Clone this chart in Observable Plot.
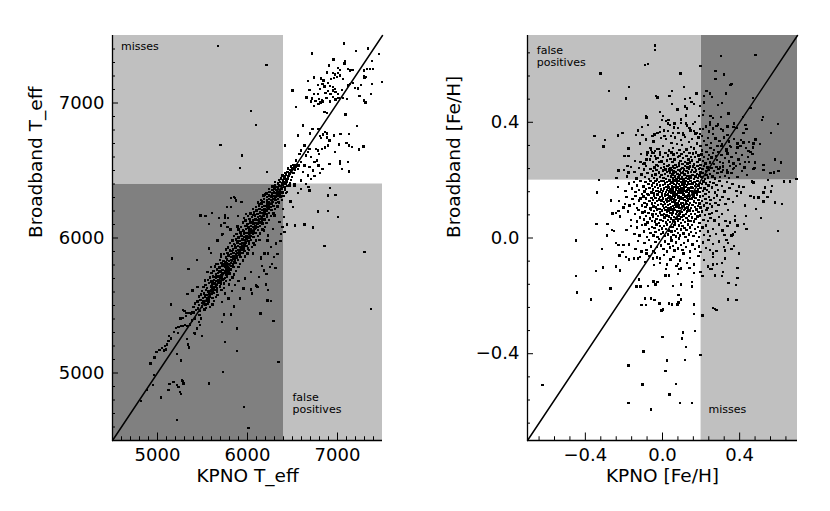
<!DOCTYPE html>
<html><head><meta charset="utf-8">
<script src="https://cdn.jsdelivr.net/npm/d3@7"></script>
<script src="https://cdn.jsdelivr.net/npm/@observablehq/plot@0.6"></script>
<style>
html,body{margin:0;padding:0;background:#fff;}
#wrap{display:flex;width:830px;height:511px;}
#wrap svg{display:block;}
</style></head><body><div id="wrap"></div>
<script>
// ---------- axis settings ----------
const teffDomain = [4500, 7500];
const teffCut = 6400;
const teffTicks = [5000, 6000, 7000];
const teffTickLabels = ["5000", "6000", "7000"];
const fehDomain = [-0.7, 0.7];
const fehCut = 0.2;
const fehTicks = [-0.4, 0, 0.4];
const fehTickLabels = ["\u22120.4", "0.0", "0.4"];

// ---------- left panel: Teff (KPNO, Broadband) ----------
const teffBand = [
[5385,5452],[5428,5466],[5473,5458],[5521,5471],
[5402,5489],[5447,5478],[5493,5492],[5538,5481],[5583,5490],
[5418,5514],[5462,5503],[5497,5518],[5533,5507],[5561,5515],[5612,5506],
[5443,5531],[5478,5541],[5512,5529],[5547,5538],[5572,5544],[5628,5532],
[5458,5566],[5503,5554],[5528,5563],[5557,5552],[5583,5567],[5612,5557],[5652,5564],
[5483,5581],[5518,5590],[5552,5579],[5573,5588],[5602,5583],[5623,5592],[5668,5580],
[5497,5606],[5542,5615],[5568,5603],[5597,5612],[5613,5608],[5642,5617],[5663,5604],[5712,5613],
[5512,5639],[5553,5628],[5592,5641],[5612,5632],[5643,5638],[5658,5627],[5692,5642],[5738,5631],
[5532,5654],[5573,5667],[5607,5656],[5633,5663],[5657,5652],[5678,5666],[5707,5658],[5738,5664],[5792,5655],
[5558,5689],[5602,5678],[5628,5691],[5657,5682],[5678,5688],[5702,5679],[5723,5692],[5762,5681],[5808,5690],
[5583,5706],[5618,5714],[5652,5703],[5677,5716],[5702,5707],[5718,5712],[5747,5704],[5773,5715],[5832,5708],
[5598,5739],[5647,5731],[5673,5742],[5703,5728],[5722,5737],[5748,5744],[5768,5730],[5802,5738],[5848,5733],
[5622,5755],[5663,5766],[5702,5757],[5723,5763],[5752,5752],[5768,5767],[5792,5758],[5818,5764],[5873,5756],
[5642,5789],[5688,5781],[5722,5792],[5748,5783],[5772,5788],[5793,5779],[5817,5791],[5843,5784],[5902,5787],
[5668,5806],[5712,5815],[5743,5803],[5772,5812],[5793,5807],[5817,5816],[5838,5804],[5872,5813],[5918,5809],
[5692,5838],[5733,5831],[5772,5842],[5793,5829],[5822,5836],[5838,5843],[5862,5832],[5893,5839],[5952,5834],
[5708,5864],[5762,5855],[5788,5866],[5822,5858],[5843,5863],[5867,5854],[5883,5867],[5922,5859],[5973,5862],
[5737,5881],[5778,5889],[5817,5880],[5843,5891],[5872,5883],[5888,5888],[5912,5879],[5943,5890],[6002,5884],
[5758,5914],[5807,5906],[5838,5915],[5872,5903],[5893,5912],[5917,5907],[5933,5916],[5967,5905],[6018,5912],
[5782,5931],[5828,5939],[5867,5930],[5893,5941],[5922,5932],[5938,5938],[5962,5929],[5988,5940],[6052,5933],
[5803,5963],[5852,5955],[5888,5966],[5922,5957],[5943,5962],[5967,5953],[5983,5967],[6017,5958],[6068,5964],
[5832,5981],[5873,5990],[5912,5979],[5943,5988],[5972,5983],[5988,5991],[6012,5980],[6038,5987],[6097,5982],
[5848,6014],[5902,6005],[5933,6016],[5967,6007],[5988,6012],[6017,6003],[6033,6015],[6067,6008],[6118,6013],
[5877,6031],[5923,6040],[5962,6029],[5988,6038],[6017,6033],[6038,6041],[6062,6030],[6088,6037],[6142,6032],
[5898,6064],[5952,6055],[5983,6066],[6017,6057],[6038,6062],[6067,6053],[6083,6067],[6117,6058],[6168,6063],
[5927,6081],[5973,6090],[6012,6079],[6038,6088],[6067,6083],[6088,6091],[6112,6080],[6138,6087],[6192,6082],
[5948,6114],[6002,6105],[6033,6116],[6067,6107],[6088,6112],[6112,6103],[6133,6115],[6167,6108],[6213,6113],
[5982,6131],[6023,6140],[6062,6129],[6088,6138],[6117,6133],[6133,6141],[6162,6130],[6188,6137],[6242,6132],
[6003,6164],[6052,6155],[6083,6166],[6117,6157],[6138,6162],[6162,6153],[6183,6167],[6217,6158],[6258,6163],
[6032,6181],[6073,6190],[6112,6179],[6138,6188],[6167,6183],[6183,6191],[6212,6180],[6238,6187],[6287,6182],
[6058,6214],[6102,6205],[6133,6216],[6167,6207],[6188,6212],[6212,6203],[6233,6215],[6267,6208],[6308,6213],
[6092,6231],[6128,6240],[6162,6229],[6188,6238],[6217,6233],[6233,6241],[6262,6230],[6288,6237],[6332,6232],
[6118,6264],[6157,6255],[6183,6266],[6217,6257],[6238,6262],[6262,6253],[6283,6267],[6317,6258],[6353,6263],
[6152,6281],[6183,6290],[6217,6279],[6238,6288],[6267,6283],[6283,6291],[6312,6280],[6338,6287],[6382,6282],
[6178,6314],[6217,6305],[6238,6316],[6267,6307],[6288,6312],[6312,6303],[6333,6315],[6367,6308],[6398,6313],
[6212,6331],[6243,6340],[6272,6329],[6293,6338],[6317,6333],[6333,6341],[6362,6330],[6388,6337],[6427,6332],
[6238,6364],[6277,6355],[6298,6366],[6322,6357],[6338,6362],[6362,6353],[6383,6367],[6417,6358],
[6277,6381],[6303,6390],[6332,6379],[6348,6388],[6372,6383],[6388,6391],[6412,6380],[6438,6387],
[6308,6414],[6342,6405],[6358,6416],[6382,6407],[6398,6412],[6422,6403],[6438,6415],[6472,6408],
[6352,6431],[6373,6440],[6397,6429],[6413,6438],[6432,6433],[6448,6441],[6482,6430],
[6388,6464],[6412,6455],[6428,6466],[6452,6457],[6463,6462],[6492,6453],
[6422,6481],[6443,6490],[6467,6479],[6483,6488],[6512,6482],
[6452,6514],[6478,6505],[6502,6516],[6528,6507],
[6482,6531],[6508,6540],[6542,6529],[6568,6538],
[5612,5672],[5655,5718],[5688,5752],[5721,5796],[5757,5824],[5790,5872],[5826,5903],[5858,5947],[5893,5978],[5927,6022],[5958,6047],[5994,6093],[6027,6124],[6061,6170],[6094,6198],[6128,6249],[6160,6276],[6195,6322],
[5661,5623],[5706,5662],[5741,5697],[5779,5748],[5812,5771],[5848,5818],[5886,5853],[5917,5896],[5955,5922],[5986,5962],[6021,6002],[6057,6041],[6092,6072],[6126,6121],[6163,6146],[6197,6188],[6232,6224],[6268,6254],[6303,6297],[6341,6322]
];
const teffScatter = [
[5674,7423],[5700,6690],[5937,6611],[5918,6520],[5814,6295],[5862,6298],[5933,6268],[5774,6231],[5477,6167],[5533,6162],[5607,6184],[5748,6147],[5781,6147],[5892,6162],[5985,6179],[5962,6147],[5570,6103],[5703,6093],[5744,6112],[5811,6063],[5718,6026],[5888,6085],[5974,6130],[5918,6043],
[7073,7441],[6718,7367],[7207,7386],[7340,7404],[7462,7364],[6210,7283],[6955,7322],[7085,7307],[7077,7293],[7385,7312],[6903,7278],[7003,7258],[7025,7243],[7114,7253],[7140,7241],[7166,7246],[7292,7241],[7325,7251],[7359,7253],[7392,7253],[6881,7226],[6948,7221],[6973,7211],[7003,7223],[7292,7201],[7314,7191],[7299,7184],[6673,7164],[6736,7189],[6814,7181],[6844,7167],[6781,7135],[6833,7140],[6855,7122],[6892,7147],[6918,7127],[6951,7120],[6973,7105],[6929,7179],[6962,7184],[6996,7194],[7029,7204],[7062,7179],[7114,7130],[7136,7140],[7173,7149],[7192,7112],[7225,7107],[7262,7135],[7381,7140],[7496,7154],[6499,7093],[6688,7095],[6785,7068],[6740,7065],[6807,7105],[6892,7090],[6866,7075],[6922,7065],[6948,7093],[6977,7080],[7003,7065],[7048,7095],[6655,7041],[6718,7033],[6755,7016],[6792,7031],[6825,7021],[6707,7011],[6877,7036],[6918,7011],[6948,7046],[6977,7026],[7010,7038],[6736,6977],[6788,6991],[6810,7004],[6840,7011],[7059,7036],[7103,7031],[7244,7053],[7296,7019],[7310,7004],[7370,7065],[6536,6972],[6855,6932],[6885,6925],[7088,6915],[6036,6942],[6092,6838],[6618,6833],[6722,6809],[6788,6809],[7218,6828],[6559,6759],[6696,6774],[6803,6754],[6818,6740],[6840,6767],[6862,6784],[6881,6774],[6885,6744],[6962,6759],[7033,6769],[7129,6769],[7018,6693],[7099,6705],[7125,6685],[7159,6675],[7288,6678],[7236,6656],[6910,6722],[6892,6685],[6829,6661],[6862,6670],[6970,6636],[6414,6685],[6910,6547],[7025,6567],[7025,6550],[7118,6562],[7051,6510],[7125,6493],[6214,6488],[6744,6458],[6807,6483],[6833,6512],
[6918,6369],[6977,6320],[6896,6315],[6781,6196],[6896,6199],[7003,6154],[6725,6078],[6633,6100],[6529,6093],[6440,6100],[6503,6228],[6477,6270],[6436,6340],[6559,6335],[6596,6364],[6651,6401],[6688,6352],[6677,6377],[6466,6389],[6521,6389],
[6762,6661],[6781,6648],[6792,6623],[6744,6562],[6770,6574],[6788,6537],[6707,6599],[6670,6636],[6688,6661],[6633,6685],[6596,6648],[6651,6611],[6577,6623],[6540,6574],[6596,6562],[6633,6537],[6688,6525],[6725,6500],[6559,6512],[6522,6537],[6484,6488],[6614,6488],[6670,6463],[6707,6438],[6596,6426],[6522,6401],
[6373,6340],[6336,6266],[6392,6216],[6299,6167],[6410,6043],[6281,6068],[6355,6117],[6225,6019],
[6855,5942],[7299,5897],[7373,5473],[6344,5080],[6144,5440],[6288,5386],[6262,5532],[6040,5618],[6051,5589],[6099,5643],[6207,5655],[6225,5613],[6040,5749],[6159,5791],[6270,5808],[6310,5779],[6010,4594],[6188,5885],[6151,5848],[6225,5885],[6059,5885],[6318,5959],[6366,5976],[6133,5984],[6077,5947],[6003,5922],
[5162,5848],[5440,5838],[5344,5771],[5570,5922],[5592,5890],[5151,5507],[5281,5465],[5299,5458],[5318,5443],[5344,5443],[5374,5440],[5400,5448],[5281,5408],[5314,5421],[5255,5403],[5207,5334],[5233,5339],[5259,5349],[5285,5347],[5307,5354],[5333,5349],[5359,5359],[5381,5389],[5418,5403],[5225,5297],[5181,5302],[5129,5275],[5148,5255],[5122,5236],[5085,5201],[5103,5211],[5048,5186],[5022,5169],[5074,5166],[5092,5174],[4966,5115],[4922,5070],[4988,5157],[5218,5139],[5262,5092],[5329,5250],[5337,5211],[5348,5189],[5418,5292],[5440,5329],[5474,5354],[5485,5403],[5462,5379],[5466,5428],[5496,5275],[5411,5297],[4962,4984],[4948,4910],[4881,4873],[4818,4794],[5040,4818],[5122,4873],[5133,4920],[5177,4934],[5218,4910],[5233,4897],[5251,4860],[5262,4843],[5277,4939],[5288,4922],[5270,4947],[5214,4653],[5574,4922],[5729,5008],[5748,5231],[5714,5379],[5740,5433],[5818,5433],[5848,5492],[5881,5329],[5881,5164],[5962,4749],[5751,5589],[5825,5606],[5862,5650],[5899,5680],[5851,5724],[5714,5527],[5788,5552],[5918,5552],[5955,5626],[5974,5700],[5566,5527],[5529,5576],[5622,5626],
[5685,6150],[5748,6167],[5852,6303],[5874,6278],[5815,6229],[5778,6080],[5722,6031],[5667,5982],[5704,5883],[5648,5809],[5593,5784],[5556,5747],[5630,5710],[5526,5685],[5444,5636],[5389,5611],[5333,5587],[6185,6056],[6222,5982],[6259,5932],[6296,5858],[6252,5784],[6333,5883],[6370,6031],[6389,6080],[6407,6154],[6185,5759],[6111,5636],[6093,5648],[6222,5537],[6211,5735],[6148,5858],[6130,5710]
];

// ---------- right panel: [Fe/H] (KPNO, Broadband) ----------
const fehCore = [
[-.082,.417],[-.013,.436],[.031,.408],[.078,.444],[.121,.423],[.167,.402],[.214,.438],[.263,.415],
[-.128,.372],[-.074,.391],[-.041,.358],[-.012,.384],[.008,.371],[.027,.396],[.044,.353],[.061,.382],[.083,.362],[.097,.398],[.109,.356],[.128,.389],[.146,.371],[.157,.394],[.172,.361],[.193,.377],[.204,.352],[.226,.386],[.241,.368],[.262,.359],[.288,.392],[.313,.371],[.337,.357],[.368,.384],[.419,.362],
[-.118,.327],[-.087,.341],[-.063,.312],[-.046,.334],[-.027,.308],[-.009,.346],[.004,.318],[.019,.343],[.033,.302],[.046,.329],[.053,.311],[.066,.347],[.074,.325],[.088,.304],[.096,.338],[.102,.322],[.117,.349],[.125,.306],[.138,.331],[.147,.315],[.154,.342],[.163,.309],[.178,.327],[.186,.348],[.197,.318],[.206,.303],[.214,.336],[.229,.321],[.237,.345],[.248,.311],[.253,.329],[.267,.305],[.274,.344],[.286,.318],[.296,.336],[.308,.323],[.319,.347],[.332,.306],[.345,.334],[.356,.315],[.371,.342],[.389,.326],[.408,.339],[.432,.311],[.471,.326],
[-.176,.283],[-.142,.266],[-.113,.291],[-.094,.258],[-.081,.287],[-.066,.271],[-.054,.296],[-.048,.262],[-.039,.284],[-.031,.253],[-.022,.277],[-.014,.298],[-.006,.265],[.003,.281],[.009,.256],[.016,.293],[.022,.268],[.029,.285],[.035,.252],[.041,.274],[.047,.296],[.052,.263],[.057,.288],[.063,.271],[.068,.252],[.074,.294],[.079,.279],[.085,.258],[.089,.283],[.094,.267],[.098,.291],[.103,.255],[.107,.276],[.112,.298],[.118,.263],[.124,.284],[.129,.257],[.134,.272],[.139,.293],[.144,.261],[.148,.281],[.153,.268],[.158,.292],[.164,.254],[.169,.279],[.175,.296],[.181,.263],[.187,.285],[.192,.271],[.198,.253],[.203,.289],[.209,.266],[.215,.281],[.222,.257],[.228,.297],[.235,.273],[.242,.286],[.247,.261],[.254,.278],[.261,.293],[.268,.256],[.276,.284],[.283,.269],[.291,.297],[.297,.262],[.306,.287],[.315,.259],[.324,.276],[.337,.292],[.346,.265],[.357,.281],[.368,.258],[.381,.294],[.394,.272],[.412,.287],[.427,.263],[.443,.279],[.466,.291],
[-.228,.234],[-.183,.212],[-.162,.246],[-.146,.228],[-.134,.206],[-.121,.241],[-.108,.219],[-.097,.237],[-.091,.211],[-.084,.248],[-.077,.224],[-.069,.203],[-.062,.239],[-.056,.216],[-.049,.231],[-.045,.207],[-.041,.244],[-.036,.219],[-.032,.236],[-.027,.202],[-.023,.249],[-.018,.226],[-.013,.211],[-.009,.242],[-.005,.218],[.002,.233],[.005,.208],[.009,.246],[.012,.221],[.016,.237],[.019,.204],[.023,.229],[.026,.249],[.029,.214],[.033,.238],[.036,.201],[.039,.226],[.042,.243],[.045,.212],[.048,.235],[.051,.219],[.053,.247],[.056,.206],[.059,.231],[.062,.242],[.065,.213],[.068,.228],[.071,.203],[.074,.245],[.077,.222],[.079,.236],[.082,.209],[.085,.248],[.088,.217],[.091,.233],[.093,.204],[.096,.239],[.098,.225],[.101,.211],[.104,.243],[.106,.228],[.109,.202],[.112,.237],[.115,.219],[.118,.249],[.121,.207],[.124,.232],[.127,.215],[.129,.244],[.132,.226],[.135,.203],[.138,.238],[.141,.213],[.144,.247],[.147,.229],[.149,.209],[.152,.236],[.155,.218],[.158,.247],[.162,.204],[.165,.229],[.168,.241],[.172,.212],[.175,.234],[.178,.222],[.182,.249],[.185,.207],[.189,.238],[.192,.216],[.195,.243],[.198,.226],[.203,.211],[.207,.239],[.211,.224],[.215,.248],[.219,.205],[.224,.232],[.228,.217],[.233,.244],[.237,.209],[.241,.236],[.246,.221],[.254,.242],[.259,.213],[.266,.231],[.272,.206],[.279,.246],[.285,.224],[.291,.238],[.297,.211],[.305,.229],[.314,.247],[.323,.214],[.336,.236],[.344,.207],[.358,.224],[.372,.243],[.389,.211],[.413,.232],[.437,.218],[.478,.241],
[-.231,.176],[-.192,.163],[-.174,.188],[-.158,.171],[-.147,.193],[-.139,.158],[-.131,.181],[-.122,.166],[-.114,.197],[-.106,.153],[-.098,.178],[-.094,.161],[-.089,.194],[-.084,.169],[-.078,.152],[-.073,.186],[-.068,.173],[-.063,.198],[-.058,.157],[-.053,.182],[-.049,.167],[-.046,.191],[-.043,.154],[-.039,.176],[-.036,.198],[-.033,.163],[-.029,.185],[-.026,.151],[-.022,.172],[-.019,.194],[-.016,.159],[-.012,.181],[-.009,.168],[-.006,.196],[-.003,.155],[.002,.184],[.004,.162],[.007,.197],[.009,.171],[.012,.153],[.014,.188],[.017,.176],[.019,.158],[.022,.193],[.024,.166],[.027,.181],[.029,.152],[.032,.174],[.034,.199],[.037,.161],[.039,.186],[.042,.169],[.044,.155],[.046,.192],[.049,.178],[.051,.163],[.053,.195],[.055,.171],[.058,.154],[.060,.186],[.062,.177],[.064,.159],[.067,.199],[.069,.167],[.071,.183],[.073,.152],[.076,.191],[.078,.174],[.080,.161],[.082,.196],[.085,.168],[.087,.187],[.089,.156],[.091,.179],[.094,.164],[.096,.193],[.098,.172],[.101,.185],[.103,.157],[.105,.194],[.108,.169],[.110,.178],[.112,.153],[.115,.189],[.117,.163],[.120,.198],[.122,.176],[.125,.158],[.127,.184],[.130,.166],[.132,.192],[.135,.171],[.137,.155],[.140,.187],[.143,.162],[.145,.197],[.148,.175],[.152,.161],[.155,.188],[.158,.172],[.161,.154],[.165,.193],[.168,.179],[.171,.163],[.174,.186],[.177,.157],[.181,.196],[.184,.168],[.187,.181],[.191,.159],[.194,.191],[.197,.173],[.204,.186],[.209,.162],[.213,.195],[.218,.171],[.223,.153],[.227,.189],[.232,.166],[.238,.181],[.242,.158],[.247,.194],[.256,.174],[.264,.191],[.271,.157],[.279,.183],[.288,.166],[.295,.198],[.309,.179],[.322,.161],[.336,.193],[.347,.172],[.362,.186],[.384,.163],[.421,.177],
[-.226,.128],[-.187,.141],[-.171,.113],[-.156,.134],[-.148,.118],[-.139,.146],[-.131,.104],[-.123,.129],[-.115,.137],[-.107,.112],[-.099,.143],[-.094,.121],[-.089,.107],[-.084,.136],[-.079,.116],[-.073,.148],[-.068,.127],[-.063,.102],[-.058,.139],[-.053,.119],[-.049,.131],[-.046,.109],[-.043,.145],[-.039,.122],[-.036,.138],[-.033,.104],[-.029,.127],[-.026,.149],[-.022,.114],[-.019,.133],[-.016,.101],[-.012,.142],[-.009,.118],[-.006,.129],[-.003,.147],[.002,.112],[.004,.137],[.007,.124],[.009,.103],[.012,.145],[.014,.118],[.017,.131],[.019,.108],[.022,.149],[.024,.126],[.027,.115],[.029,.139],[.032,.102],[.035,.128],[.037,.144],[.040,.117],[.042,.133],[.045,.106],[.047,.141],[.051,.124],[.053,.147],[.055,.111],[.058,.135],[.060,.102],[.062,.128],[.065,.143],[.067,.116],[.070,.132],[.072,.107],[.075,.149],[.077,.121],[.079,.138],[.082,.113],[.084,.127],[.087,.146],[.089,.104],[.092,.134],[.095,.119],[.097,.141],[.101,.109],[.103,.136],[.106,.122],[.108,.148],[.111,.113],[.114,.131],[.116,.102],[.119,.143],[.121,.126],[.124,.117],[.127,.139],[.129,.106],[.132,.129],[.135,.147],[.138,.114],[.141,.135],[.144,.121],[.147,.103],[.153,.137],[.156,.115],[.160,.144],[.163,.126],[.167,.108],[.171,.139],[.175,.121],[.179,.148],[.183,.111],[.187,.132],[.191,.119],[.195,.143],[.198,.105],[.205,.127],[.211,.146],[.216,.112],[.222,.135],[.228,.121],[.234,.103],[.240,.141],[.246,.118],[.249,.132],[.257,.109],[.266,.138],[.274,.122],[.283,.147],[.291,.114],[.298,.131],[.311,.142],[.326,.117],[.343,.135],[.364,.124],[.387,.146],[.428,.113],
[-.221,.074],[-.178,.091],[-.163,.062],[-.144,.083],[-.133,.057],[-.124,.096],[-.116,.071],[-.104,.088],[-.097,.064],[-.091,.092],[-.084,.077],[-.078,.053],[-.072,.086],[-.066,.068],[-.061,.098],[-.056,.059],[-.052,.081],[-.048,.072],[-.044,.094],[-.039,.057],[-.035,.083],[-.031,.066],[-.027,.099],[-.022,.076],[-.018,.052],[-.014,.088],[-.010,.063],[-.006,.079],[-.002,.095],[.003,.058],[.007,.084],[.010,.071],[.014,.097],[.017,.053],[.021,.078],[.024,.089],[.028,.062],[.031,.093],[.035,.074],[.038,.056],[.041,.086],[.044,.067],[.047,.099],[.049,.081],[.053,.061],[.056,.088],[.059,.073],[.063,.096],[.066,.054],[.069,.082],[.072,.068],[.076,.091],[.079,.059],[.082,.077],[.085,.094],[.089,.065],[.092,.085],[.095,.052],[.098,.072],[.102,.089],[.106,.063],[.109,.078],[.113,.097],[.117,.056],[.121,.083],[.124,.069],[.128,.092],[.132,.061],[.136,.076],[.141,.095],[.145,.058],[.148,.084],[.153,.071],[.158,.093],[.162,.057],[.167,.082],[.171,.065],[.176,.098],[.181,.074],[.186,.089],[.191,.052],[.196,.078],[.206,.091],[.213,.063],[.221,.079],[.229,.096],[.236,.058],[.244,.084],[.249,.069],[.258,.087],[.269,.061],[.281,.093],[.293,.072],[.309,.084],[.327,.058],[.341,.097],[.376,.076],
[-.186,.027],[-.164,.041],[-.146,.013],[-.132,.036],[-.119,.008],[-.106,.044],[-.096,.022],[-.088,.047],[-.079,.004],[-.071,.031],[-.063,.017],[-.054,.039],[-.047,.009],[-.042,.034],[-.036,.021],[-.031,.046],[-.025,.003],[-.019,.028],[-.013,.041],[-.008,.014],[-.003,.033],[.004,.019],[.009,.042],[.014,.006],[.019,.031],[.024,.047],[.028,.012],[.033,.026],[.038,.039],[.043,.002],[.047,.023],[.052,.037],[.057,.011],[.062,.045],[.066,.024],[.071,.005],[.076,.032],[.081,.018],[.086,.043],[.091,.008],[.096,.029],[.103,.041],[.108,.016],[.114,.034],[.119,.003],[.125,.027],[.131,.046],[.137,.012],[.142,.036],[.148,.021],[.154,.044],[.161,.007],[.168,.031],[.175,.018],[.183,.039],[.189,.004],[.196,.025],[.207,.036],[.216,.011],[.226,.043],[.237,.022],[.246,.006],[.261,.031],[.277,.014],[.292,.047],[.312,.026],[.338,.042],[.367,.012],
[-.173,-.022],[-.141,-.037],[-.127,-.011],[-.109,-.046],[-.094,-.018],[-.083,-.041],[-.071,-.006],[-.059,-.029],[-.046,-.044],[-.037,-.013],[-.028,-.032],[-.017,-.004],[-.008,-.026],[.006,-.039],[.014,-.012],[.023,-.047],[.031,-.021],[.039,-.033],[.046,-.008],[.054,-.027],[.062,-.043],[.071,-.015],[.079,-.036],[.087,-.002],[.095,-.024],[.104,-.041],[.113,-.017],[.122,-.031],[.133,-.009],[.144,-.046],[.156,-.023],[.167,-.038],[.178,-.011],[.189,-.029],[.197,-.048],[.211,-.016],[.224,-.034],[.238,-.007],[.247,-.042],[.263,-.021],[.279,-.044],[.294,-.012],[.318,-.031],[.341,-.018],[.372,-.027],
[-.128,-.071],[-.091,-.083],[-.067,-.062],[-.044,-.094],[-.029,-.068],[-.012,-.087],[.008,-.058],[.024,-.091],[.041,-.074],[.057,-.066],[.073,-.097],[.092,-.078],[.108,-.054],[.126,-.086],[.143,-.069],[.162,-.092],[.187,-.063],[.214,-.077],[.236,-.098],[.262,-.066],[.284,-.089],[.323,-.071]
];
const fehScatter = [
[-.038,.666],[-.038,.649],[-.075,.601],[-.092,.597],[.197,.595],[.304,.630],[.483,.633],[-.322,.568],[.094,.568],[.275,.577],[.320,.565],[.275,.550],[.353,.529],[.358,.533],[.113,.523],[-.278,.509],[-.174,.522],[-.188,.482],[-.035,.491],[-.026,.486],[.049,.508],[.036,.491],[.228,.508],[.245,.500],[.256,.487],[.216,.491],[.176,.500],[.329,.500],[.468,.483],[.289,.459],[.308,.466],[.050,.463],[.118,.481],[.144,.483],[.118,.454],[.127,.448],[.150,.471],[.162,.463],[-.085,.421],[-.004,.408],[-.106,.384],
[-.353,.353],[-.299,.338],[-.306,.316],[-.230,.354],[-.207,.363],[-.138,.357],[-.103,.357],[-.051,.352],[-.038,.356],[-.026,.364],[-.012,.367],[.193,.456],[.214,.468],[.189,.422],[.210,.425],[.249,.422],[.245,.401],[.245,.393],[.343,.431],[.303,.418],[.416,.419],[.457,.450],[.520,.418],[.516,.407],[.598,.395],[.372,.396],[.384,.381],[.337,.385],[.303,.376],[.280,.387],[.263,.378],[.431,.390],[.436,.376],[.562,.364],[.002,.422],[.019,.404],[.040,.390],[.063,.396],[.080,.381],[.097,.410],[.123,.396],[.141,.381],[.162,.370],[.106,.364],[.054,.364],[.028,.370],[.010,.353],[.176,.364],[.196,.359],[.210,.376],
[-.176,.309],[-.198,.284],[-.078,.295],[-.061,.305],[-.038,.301],[-.021,.307],[-.115,.263],[-.099,.255],[-.082,.272],[-.061,.284],[-.047,.293],[-.012,.288],[-.033,.275],[-.016,.263],[.483,.341],[.506,.324],[.450,.332],[.468,.313],[.419,.330],[.405,.318],[.388,.313],[.349,.318],[.332,.301],[.306,.318],[.445,.301],[.457,.298],[.584,.272],[.614,.261],[.523,.252],[.471,.238],[.480,.261],[.450,.263],[.426,.244],[.402,.255],[.381,.249],[.367,.238],[.349,.249],[.337,.226],[.315,.235],[.297,.244],
[-.330,.200],[-.238,.207],[-.341,.157],[-.176,.226],[-.200,.236],[-.181,.249],[.463,.195],[.471,.192],[.546,.201],[.631,.195],[.662,.195],[.694,.203],[.523,.236],[.560,.224],[.577,.226],[.602,.232],[.398,.178],[.407,.157],[.457,.146],[.475,.140],[.497,.140],[.523,.157],[.530,.175],[.567,.180],[.563,.161],[.523,.126],[.544,.142],
[-.268,.130],[-.259,.085],[-.242,.086],[-.228,.094],[-.203,.106],[-.195,.117],[-.343,.048],[-.285,.048],[-.261,.028],[-.252,.025],[-.289,.008],[.511,.069],[.600,.025],[.485,.100],[.433,.077],[.424,.048],[.436,.031],[.388,.043],[.377,.060],[.349,.054],[.376,.020],[.358,.008],[.322,.010],[.584,.123],[.621,.117],
[.332,-.006],[.325,-.043],[.358,-.037],[.398,-.053],[.263,-.054],[.263,-.091],[.309,-.086],[.388,-.104],[.315,-.117],[.271,-.129],[.309,-.132],[.388,-.138],[.245,-.108],[.254,-.108],[.198,-.117],[.207,-.132],[.342,-.155],[.382,-.163],[.339,-.213],[.383,-.215],[.263,-.242],[.271,-.246],[.280,-.248],[.207,-.268],[.198,-.405],[.170,-.322],[.162,-.263],[.162,-.230],[.106,-.327],[.101,-.347],[.122,-.376],[.118,-.421],[.023,-.423],[.016,-.460],[.070,-.504],[.036,-.541],[.092,-.571],[.153,-.571],[.002,-.342],[.002,-.247],[.033,-.227],[.050,-.230],[.078,-.230],[.083,-.223],[.082,-.198],[.096,-.213],[.054,-.166],[.097,-.161],[.153,-.152],[.153,-.167],[.017,-.108],[.033,-.129],[.016,-.129],[.080,-.125],[.097,-.106],[.089,-.108],[.162,-.122],[.141,-.104],[.080,-.089],
[-.447,-.008],[-.315,-.038],[-.242,-.017],[-.229,-.025],[-.203,-.025],[-.223,-.060],[-.207,-.048],[-.189,-.066],[-.447,-.132],[-.442,-.189],[-.372,-.212],[-.344,-.114],[-.309,-.102],[-.269,-.175],[-.242,-.098],[-.221,-.112],[-.123,-.144],[-.115,-.167],[-.134,-.167],[-.090,-.209],[-.061,-.209],[-.042,-.215],[-.108,-.232],[-.087,-.232],[-.076,-.166],[-.047,-.150],[-.026,-.152],[-.036,-.161],[-.015,-.227],[-.005,-.250],[-.003,-.342],[-.099,-.393],[-.177,-.441],[-.622,-.508],[-.104,-.506],[-.177,-.570],[-.061,-.593],
[-.174,-.074],[-.148,-.071],[-.116,-.066],[-.082,-.054],[-.038,-.051],[-.012,-.071],[-.050,-.071],
[.012,.188],[.048,.171],[.073,.204],[.104,.166],[.139,.214],[.021,.134],[.066,.121],[.097,.157],[.131,.097],[-.024,.163],[.058,.226],[.117,.192],[.162,.141],[-.037,.108],[.004,.079],[.087,.113],[.036,.233],[.151,.176],[.083,.142],[.026,.097]
];

// ---------- drawing ----------
const FONT = "DejaVu Sans, sans-serif";
const DARK = "#808080", LIGHT = "#c0c0c0";

function panel(cfg) {
  const [d0, d1] = cfg.domain, c = cfg.cut;
  const lo = [d0, c], hi = [c, d1];
  const dark = cfg.darkLow ? [{x: lo, y: lo}] : [{x: hi, y: hi}];
  const light = [{x: lo, y: hi}, {x: hi, y: lo}];
  const rect = (arr, fill) => Plot.rect(arr, {x1: r => r.x[0], x2: r => r.x[1], y1: r => r.y[0], y2: r => r.y[1], fill});
  const txt = {fontFamily: FONT, fill: "black"};
  return Plot.plot({
    width: 415, height: 511,
    marginTop: 35, marginRight: 33, marginBottom: 71, marginLeft: 112,
    x: {domain: cfg.domain, axis: null},
    y: {domain: cfg.domain, axis: null},
    style: {background: "white", overflow: "visible"},
    marks: [
      rect(dark, DARK),
      rect(light, LIGHT),
      Plot.dot(cfg.points, {x: d => d[0], y: d => d[1], symbol: "square", r: 1.35, fill: "black", stroke: "none", shapeRendering: "crispEdges"}),
      Plot.line(cfg.domain.map(v => [v, v]), {x: d => d[0], y: d => d[1], stroke: "black", strokeWidth: 1.5}),
      Plot.ruleX([d0], {x: d => d, stroke: "black", strokeWidth: 1.3}),
      Plot.ruleY([d0], {y: d => d, stroke: "black", strokeWidth: 1.3}),
      Plot.ruleX(cfg.ticks, {x: d => d, y1: () => d0, y2: () => d0, insetTop: -7.5, stroke: "black"}),
      Plot.ruleX(cfg.minor, {x: d => d, y1: () => d0, y2: () => d0, insetTop: -3.75, stroke: "black"}),
      Plot.ruleY(cfg.ticks, {y: d => d, x1: () => d0, x2: () => d0, insetRight: -6, stroke: "black"}),
      Plot.ruleY(cfg.minor, {y: d => d, x1: () => d0, x2: () => d0, insetRight: -3, stroke: "black"}),
      Plot.text(cfg.ticks, {x: d => d, text: (d, i) => cfg.tickLabels[i], frameAnchor: "bottom", dy: 20, fontSize: 18, ...txt}),
      Plot.text(cfg.ticks, {y: d => d, text: (d, i) => cfg.tickLabels[i], frameAnchor: "left", dx: -8, textAnchor: "end", fontSize: 18, ...txt}),
      Plot.text([cfg.xLabel], {text: d => d, frameAnchor: "bottom", dy: 41, fontSize: 18.5, ...txt}),
      Plot.text([cfg.yLabel], {text: d => d, frameAnchor: "left", dx: cfg.yLabelDx, rotate: -90, fontSize: 18.5, ...txt}),
      ...cfg.notes(c, txt)
    ]
  });
}

const minorTeff = d3.range(4600, 7500, 100).filter(v => !teffTicks.includes(v));
const minorFeh = d3.range(-8, 9).map(i => +(i * 0.08).toFixed(2)).filter(v => Math.abs(v) < 0.7 && !fehTicks.some(t => Math.abs(t - v) < 1e-9));

const left = panel({
  domain: teffDomain, cut: teffCut, darkLow: true,
  ticks: teffTicks, tickLabels: teffTickLabels, minor: minorTeff,
  points: teffBand.concat(teffScatter),
  xLabel: "KPNO T_eff", yLabel: "Broadband T_eff", yLabelDx: -76,
  notes: (c, txt) => [
    Plot.text(["misses"], {text: d => d, frameAnchor: "top-left", dx: 8.6, dy: 7, textAnchor: "start", lineAnchor: "top", fontSize: 11, ...txt}),
    Plot.text(["false\npositives"], {text: d => d, x: () => c, frameAnchor: "bottom", dx: 9, dy: -27.5, textAnchor: "start", lineAnchor: "bottom", lineHeight: 1.08, fontSize: 11, ...txt})
  ]
});
const right = panel({
  domain: fehDomain, cut: fehCut, darkLow: false,
  ticks: fehTicks, tickLabels: fehTickLabels, minor: minorFeh,
  points: fehCore.concat(fehScatter),
  xLabel: "KPNO [Fe/H]", yLabel: "Broadband [Fe/H]", yLabelDx: -73,
  notes: (c, txt) => [
    Plot.text(["false\npositives"], {text: d => d, frameAnchor: "top-left", dx: 9.3, dy: 10.5, textAnchor: "start", lineAnchor: "top", lineHeight: 1.08, fontSize: 11, ...txt}),
    Plot.text(["misses"], {text: d => d, x: () => c, frameAnchor: "bottom", dx: 7.5, dy: -28, textAnchor: "start", lineAnchor: "bottom", fontSize: 11, ...txt})
  ]
});
const wrap = document.getElementById("wrap");
wrap.appendChild(left);
wrap.appendChild(right);
</script>
</body></html>
